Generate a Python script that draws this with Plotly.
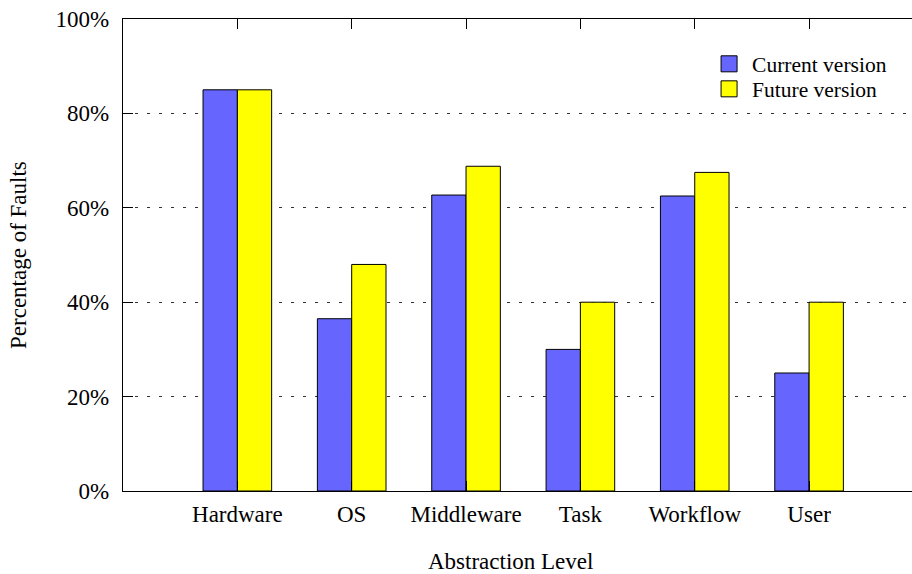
import plotly.graph_objects as go

categories = ["Hardware", "OS", "Middleware", "Task", "Workflow", "User"]
current_version = [85, 36.5, 62.7, 30, 62.5, 25]
future_version = [85, 48, 68.8, 40, 67.5, 40]
y_ticks = [0, 20, 40, 60, 80, 100]
y_tick_labels = ["0%", "20%", "40%", "60%", "80%", "100%"]
x_title = "Abstraction Level"
y_title = "Percentage of Faults"

FONT = "Liberation Serif"
BLUE = "#6666ff"
YELLOW = "#ffff00"

x_idx = list(range(len(categories)))

fig = go.Figure()
fig.add_trace(go.Bar(x=x_idx, y=current_version, name="Current version",
                     marker=dict(color=BLUE, line=dict(color="black", width=1)),
                     showlegend=False))
fig.add_trace(go.Bar(x=x_idx, y=future_version, name="Future version",
                     marker=dict(color=YELLOW, line=dict(color="black", width=1)),
                     showlegend=False))
# legend entries with larger square swatches, each in its own legend box
for name, col, lg in [("Current version", BLUE, "legend"), ("Future version", YELLOW, "legend2")]:
    fig.add_trace(go.Scatter(x=[None], y=[None], mode="markers", name=name, legend=lg,
                             marker=dict(symbol="square", size=16, color=col,
                                         line=dict(color="black", width=1))))

leg_common = dict(xanchor="left", yanchor="middle", bgcolor="rgba(0,0,0,0)",
                  font=dict(family=FONT, size=21.5), itemwidth=36)
fig.update_layout(
    width=912, height=574,
    margin=dict(l=123, r=0, t=19, b=83, autoexpand=False),
    paper_bgcolor="white", plot_bgcolor="white",
    font=dict(family=FONT, size=23, color="black"),
    barmode="group", bargap=0.4, bargroupgap=0,
    showlegend=True,
    legend=dict(x=0.739, y=0.905, **leg_common),
    legend2=dict(x=0.739, y=0.852, **leg_common),
    annotations=[
        dict(text=x_title, xref="paper", yref="paper", x=0.4905, y=-0.1495,
             xanchor="center", yanchor="middle", showarrow=False,
             font=dict(family=FONT, size=23)),
        dict(text=y_title, xref="paper", yref="paper", x=-0.1331, y=0.5,
             xanchor="center", yanchor="middle", textangle=-90, showarrow=False,
             font=dict(family=FONT, size=23)),
    ],
)
fig.update_xaxes(
    range=[-1.0, 5.9], automargin=False,
    tickmode="array", tickvals=x_idx, ticktext=categories,
    showline=True, linecolor="black", linewidth=1.3, mirror="ticks",
    ticks="inside", ticklen=10, tickcolor="black", tickwidth=1,
    showgrid=False, zeroline=False,
    ticklabelstandoff=2,
)
fig.update_yaxes(
    range=[0, 100], automargin=False,
    tickmode="array", tickvals=y_ticks, ticktext=y_tick_labels,
    showline=True, linecolor="black", linewidth=1.3, mirror=False,
    ticks="inside", ticklen=10, tickcolor="black", tickwidth=1,
    showgrid=True, gridcolor="#333333", gridwidth=1, griddash="3px,9px",
    zeroline=False,
    ticklabelstandoff=8,
)

fig.write_html("out.html", config={"displayModeBar": False},
               post_script="document.body.style.margin='0';")
